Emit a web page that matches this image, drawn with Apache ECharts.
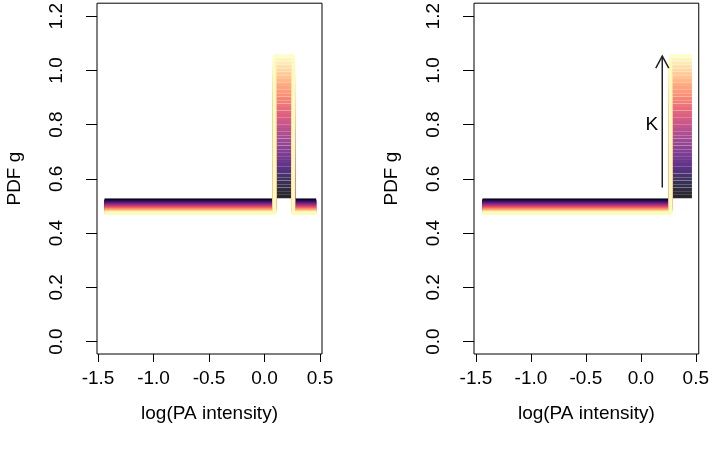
<!DOCTYPE html>
<html>
<head>
<meta charset="utf-8">
<script src="https://cdn.jsdelivr.net/npm/echarts@6/dist/echarts.min.js"></script>
<style>html,body{margin:0;padding:0;background:#fff;}#c{width:712px;height:456px;}</style>
</head>
<body>
<div id="c"></div>
<script>
// ---- data ----
// one curve per K value (dark -> light); value of g on the "low" parts and on the "high" part
const lowValues = [0.521,0.520,0.519,0.517,0.516,0.515,0.514,0.513,0.511,0.510,0.509,0.508,0.507,0.505,0.504,0.503,0.502,0.501,0.499,0.498,0.497,0.496,0.495,0.493,0.492,0.491,0.490,0.489,0.487,0.486,0.485,0.484,0.483,0.481,0.480,0.479,0.478,0.477,0.475,0.474,0.473];
const highValues = [0.535,0.548,0.561,0.574,0.587,0.600,0.613,0.626,0.639,0.652,0.665,0.677,0.690,0.703,0.716,0.729,0.742,0.755,0.768,0.781,0.794,0.807,0.820,0.833,0.846,0.859,0.871,0.884,0.897,0.910,0.923,0.936,0.949,0.962,0.975,0.988,1.001,1.014,1.027,1.040,1.053];
// x breakpoints (log PA intensity)
const leftBreaks = [-1.44, 0.09, 0.26, 0.465];   // low | high | low
const rightBreaks = [-1.44, 0.27, 0.465];        // low | high
const xTicks = [-1.5, -1.0, -0.5, 0.0, 0.5];
const yTicks = [0.0, 0.2, 0.4, 0.6, 0.8, 1.0, 1.2];
const arrowLine = [0.195, 0.568, 1.053]; // x, from y, to y
const kLabel = [0.10, 0.80];

// ---- styling ----
const magmaStops = ['#000004','#140e36','#3b0f70','#641a80','#8c2981','#b73779','#de4968','#f7705c','#fe9f6d','#fecf92','#fcfdbf'];
function hex(h){return [parseInt(h.slice(1,3),16),parseInt(h.slice(3,5),16),parseInt(h.slice(5,7),16)];}
function magma(t, a){
  const p = t*(magmaStops.length-1); const i = Math.min(Math.floor(p), magmaStops.length-2); const f = p-i;
  const c0 = hex(magmaStops[i]), c1 = hex(magmaStops[i+1]);
  const c = c0.map((v,k)=>Math.round(v+(c1[k]-v)*f));
  return 'rgba('+c[0]+','+c[1]+','+c[2]+','+a+')';
}
const FONT = 'Liberation Sans, Arial, Helvetica, sans-serif';
const FS = 19;
const LW = 3.4;

const series = [];
const n = lowValues.length;
for (let i = 0; i < n; i++) {
  const lo = lowValues[i], hi = highValues[i];
  const col = magma(i/(n-1), 0.85);
  series.push({
    type:'line', xAxisIndex:0, yAxisIndex:0, symbol:'none', silent:true, animation:false,
    lineStyle:{width:LW, color:col, cap:'butt'},
    data:[[leftBreaks[0],lo],[leftBreaks[1],lo],[leftBreaks[1],hi],[leftBreaks[2],hi],[leftBreaks[2],lo],[leftBreaks[3],lo]]
  });
  series.push({
    type:'line', xAxisIndex:1, yAxisIndex:1, symbol:'none', silent:true, animation:false,
    lineStyle:{width:LW, color:col, cap:'butt'},
    data:[[rightBreaks[0],lo],[rightBreaks[1],lo],[rightBreaks[1],hi],[rightBreaks[2],hi]]
  });
}
series.push({
  type:'custom', xAxisIndex:1, yAxisIndex:1, silent:true, animation:false, clip:false, z:10,
  encode:{x:0, y:[1,2]},
  data:[arrowLine],
  renderItem:function(params, api){
    const x = api.value(0);
    const p0 = api.coord([x, api.value(1)]), p1 = api.coord([x, api.value(2)]);
    return {type:'group', children:[
      {type:'line', shape:{x1:p0[0],y1:p0[1],x2:p1[0],y2:p1[1]}, style:{stroke:'#222', lineWidth:1.5}},
      {type:'polyline', shape:{points:[[p1[0]-6.5,p1[1]+12],[p1[0],p1[1]],[p1[0]+6.5,p1[1]+12]]}, style:{stroke:'#222', lineWidth:1.5, fill:null}}
    ]};
  }
});
series.push({
  type:'custom', xAxisIndex:1, yAxisIndex:1, silent:true, animation:false, clip:false, z:10,
  data:[kLabel],
  renderItem:function(params, api){
    const p = api.coord([api.value(0), api.value(1)]);
    return {type:'text', x:p[0], y:p[1], style:{text:'K', fontSize:FS, fontFamily:FONT, fill:'#000', align:'center', verticalAlign:'middle'}};
  }
});

function xAxis(gi, min, max){
  return {
    type:'value', gridIndex:gi, min:min, max:max, position:'bottom',
    name:'log(PA intensity)', nameLocation:'middle', nameGap:50,
    nameTextStyle:{fontSize:FS, fontFamily:FONT, color:'#000'},
    axisLine:{show:false, onZero:false}, splitLine:{show:false},
    axisTick:{show:true, inside:false, length:8, customValues:xTicks, lineStyle:{color:'#000', width:1}},
    axisLabel:{show:true, customValues:xTicks, margin:15, fontSize:FS, fontFamily:FONT, color:'#000', formatter:v=>v.toFixed(1)}
  };
}
function yAxis(gi){
  return {
    type:'value', gridIndex:gi, min:-0.046, max:1.248, position:'left',
    name:'PDF g', nameLocation:'middle', nameGap:73, nameRotate:90,
    nameTextStyle:{fontSize:FS, fontFamily:FONT, color:'#000'},
    axisLine:{show:false, onZero:false}, splitLine:{show:false},
    axisTick:{show:true, inside:false, length:11, customValues:yTicks, lineStyle:{color:'#000', width:1}},
    axisLabel:{show:true, customValues:yTicks, margin:31, rotate:90, fontSize:FS, fontFamily:FONT, color:'#000', formatter:v=>v.toFixed(1)}
  };
}

const chart = echarts.init(document.getElementById('c'), null, {renderer:'canvas'});
chart.setOption({
  backgroundColor:'#fff',
  animation:false,
  grid:[
    {left:97, top:2, width:225, height:352, show:true, borderColor:'#000', borderWidth:1, backgroundColor:'transparent'},
    {left:474, top:2, width:226, height:352, show:true, borderColor:'#000', borderWidth:1, backgroundColor:'transparent'}
  ],
  xAxis:[xAxis(0, -1.509, 0.518), xAxis(1, -1.518, 0.527)],
  yAxis:[yAxis(0), yAxis(1)],
  series:series
});
</script>
</body>
</html>
